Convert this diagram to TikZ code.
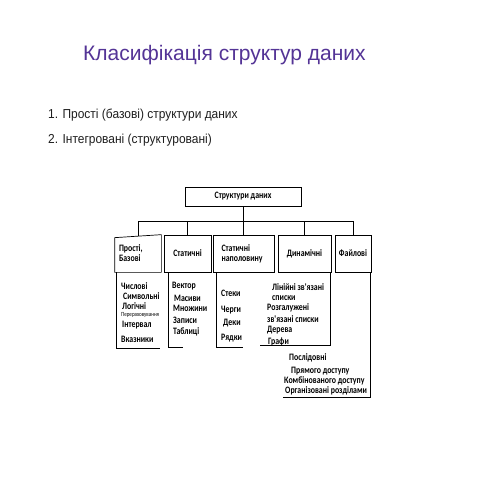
\documentclass[tikz,border=0pt]{standalone}
\usepackage{fontspec}
\setmainfont{Liberation Sans}
\newfontfamily\titlefont{Liberation Sans}
\newfontfamily\slidefont[FakeStretch=0.92]{Liberation Sans}
\newfontfamily\scanfont[FakeStretch=0.8]{Carlito}
\definecolor{titlepurple}{RGB}{84,52,150}
\definecolor{slidetext}{RGB}{30,30,30}
\begin{document}
\begin{tikzpicture}[x=1pt,y=-1pt,
  box/.style={draw, line width=0.7pt, minimum height=37pt, inner sep=1pt,
    font=\scanfont\bfseries\fontsize{9.8}{10}\selectfont},
  item/.style={anchor=west, inner sep=0pt, font=\scanfont\bfseries\fontsize{9.8}{10}\selectfont},
  tiny/.style={anchor=west, inner sep=0pt, font=\scanfont\fontsize{6.3}{7}\selectfont},
  wire/.style={line width=0.7pt},
  slide/.style={anchor=base west, inner sep=0pt, text=slidetext, font=\slidefont\fontsize{13}{15}\selectfont}]
\useasboundingbox (0,0) rectangle (480,480);
\fill[white] (0,0) rectangle (480,480);

% title and text
\node[anchor=base west, inner sep=0pt, text=titlepurple, font=\titlefont\fontsize{21}{25}\selectfont] (title) at (83,60) {Класифікація структур даних};
\node[slide] (p1) at (48,118) {1. Прості (базові) структури даних};
\node[slide] (p2) at (48,143) {2. Інтегровані (структуровані)};

% boxes
\node[box, minimum width=116pt, minimum height=19pt] (top) at (243,196.5) {Структури даних};
\node[box, draw=none, minimum width=46pt, text width=38pt, align=left] (b1) at (138,253.5) {Прості,\\Базові};
\draw[wire] (b1.south west) -- ([yshift=-3pt]b1.north west) -- (b1.north east) -- (b1.south east) -- cycle;
\node[box, minimum width=47pt] (b2) at (187.5,253.5) {Статичні};
\node[box, minimum width=61pt, text width=44pt, align=left] (b3) at (243.5,253.5) {Статичні\\наполовину};
\node[box, minimum width=53pt] (b4) at (304.5,253.5) {Динамічні};
\node[box, minimum width=36pt] (b5) at (353,253.5) {Файлові};

% bus
\coordinate (bus) at (0,221);
\draw[wire] (top.south) -- (top.south |- bus);
\draw[wire] (b1.north |- bus) -- (b5.north |- bus);
\draw[wire] ([yshift=-1.5pt]b1.north) -- (b1.north |- bus);
\foreach \b in {b2,b3,b4,b5} \draw[wire] (\b.north) -- (\b.north |- bus);

% list 1
\node[item] (l1a) at (121,286) {Числові};
\node[item] (l1b) at (123,296.5) {Символьні};
\node[item] (l1c) at (122,306.5) {Логічні};
\node[tiny] (l1d) at (121,315) {Перераховування};
\node[item] (l1e) at (122,325) {Інтервал};
\node[item] (l1f) at (121,339) {Вказники};
\draw[wire] ([xshift=2pt]b1.south west) -- ++(0,76) -- ++(43,0);

% list 2
\node[item] (l2a) at (172,286) {Вектор};
\node[item] (l2b) at (174,298.5) {Масиви};
\node[item] (l2c) at (173,308.5) {Множини};
\node[item] (l2d) at (173,320) {Записи};
\node[item] (l2e) at (173,332) {Таблиці};
\draw[wire] ([xshift=5pt]b2.south west) -- ++(0,75) -- ++(14,0);

% list 3
\node[item] (l3a) at (221,293) {Стеки};
\node[item] (l3b) at (221,310) {Черги};
\node[item] (l3c) at (223,323) {Деки};
\node[item] (l3d) at (221,338) {Рядки};
\draw[wire] ([xshift=4pt]b3.south west) -- ++(0,75) -- ++(26,0);

% list 4
\node[item] (l4a) at (272,287) {Лінійні зв'язані};
\node[item] (l4b) at (272,298.5) {списки};
\node[item] (l4c) at (267,308) {Розгалужені};
\node[item] (l4d) at (267,319) {зв'язані списки};
\node[item] (l4e) at (267,330) {Дерева};
\node[item] (l4f) at (268,342) {Графи};
\draw[wire] ([xshift=-1pt]b4.south east) -- ++(0,73) -- ++(-70,0);

% list 5
\node[item] (l5a) at (289,358) {Послідовні};
\node[item] (l5b) at (291,371) {Прямого доступу};
\node[item] (l5c) at (284,381) {Комбінованого доступу};
\node[item] (l5d) at (285,391) {Організовані розділами};
\draw[wire] ([xshift=-1pt]b5.south east) -- ++(0,125) -- ++(-87,0);
\end{tikzpicture}
\end{document}
